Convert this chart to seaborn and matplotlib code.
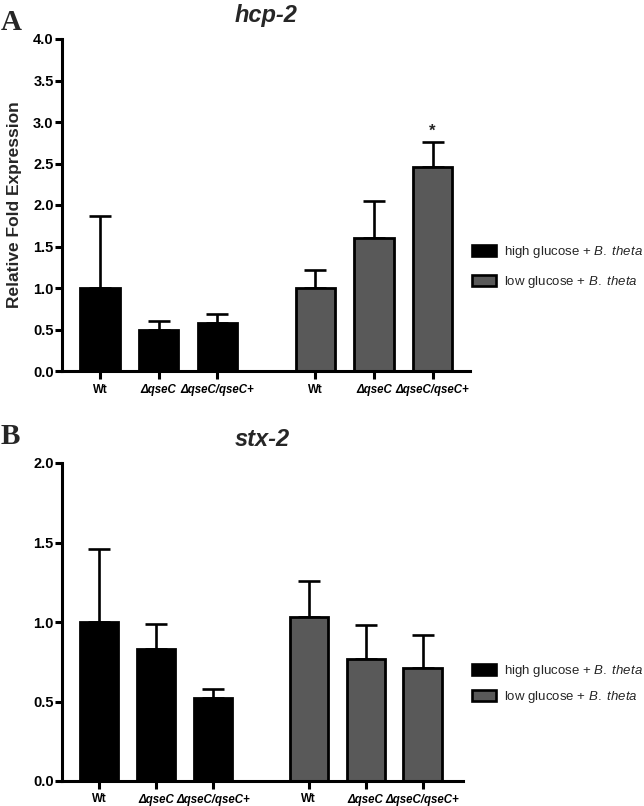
import matplotlib
matplotlib.use("Agg")
import matplotlib.pyplot as plt
import seaborn as sns
import pandas as pd
import numpy as np
from matplotlib.patches import Patch

# ---------------- data ----------------
strains = ["Wt", "ΔqseC", "ΔqseC/qseC+"]
conditions = ["high glucose + B. theta", "low glucose + B. theta"]
legend_labels = [r"high glucose + $\mathit{B.\ theta}$", r"low glucose + $\mathit{B.\ theta}$"]
colors = ["#000000", "#595959"]

hcp2_high = [1.00, 0.50, 0.58]
hcp2_high_err = [0.87, 0.10, 0.11]
hcp2_low = [1.00, 1.60, 2.46]
hcp2_low_err = [0.22, 0.45, 0.30]

stx2_high = [1.00, 0.83, 0.52]
stx2_high_err = [0.46, 0.16, 0.06]
stx2_low = [1.03, 0.77, 0.71]
stx2_low_err = [0.23, 0.21, 0.21]

positions = [0, 1, 2, 3.68, 4.68, 5.68]
hcp2_yticks = [0.0, 0.5, 1.0, 1.5, 2.0, 2.5, 3.0, 3.5, 4.0]
stx2_yticks = [0.0, 0.5, 1.0, 1.5, 2.0]
significant = [(5, "*")]   # index of bar in hcp-2 with star

# ---------------- style ----------------
sns.set_theme(style="ticks")
plt.rcParams["font.family"] = ["Liberation Sans", "DejaVu Sans"]
plt.rcParams["mathtext.fontset"] = "custom"
plt.rcParams["mathtext.it"] = "Liberation Sans:italic"
plt.rcParams["mathtext.rm"] = "Liberation Sans"

LW = 2.2

fig = plt.figure(figsize=(6.44, 8.06), dpi=100)
W, H = 644, 806


def fig_axes(x0, y0, x1, y1):
    return fig.add_axes([x0 / W, 1 - y1 / H, (x1 - x0) / W, (y1 - y0) / H])


def panel(ax, high, high_err, low, low_err, yticks, ylim, xlim, title):
    df = pd.DataFrame({
        "pos": positions,
        "value": list(high) + list(low),
        "cond": [conditions[0]] * 3 + [conditions[1]] * 3,
    })
    sns.barplot(data=df, x="pos", y="value", hue="cond", native_scale=True,
                dodge=False, width=0.67, palette=colors, edgecolor="black",
                linewidth=2.0, legend=False, ax=ax, zorder=2)
    vals = np.array(list(high) + list(low))
    errs = np.array(list(high_err) + list(low_err))
    ax.errorbar(positions, vals, yerr=[np.zeros_like(errs), errs], fmt="none",
                ecolor="black", elinewidth=1.9, capsize=8, capthick=1.9, zorder=1.5)
    ax.set_xlim(*xlim)
    ax.set_ylim(*ylim)
    ax.set_yticks(yticks)
    ax.set_yticklabels([f"{t:.1f}" for t in yticks], fontsize=10.5, fontweight="bold")
    ax.set_xticks(positions)
    labels = ax.set_xticklabels(strains * 2, fontsize=8.3, fontweight="bold")
    for lab in labels:
        if lab.get_text() != "Wt":
            lab.set_fontstyle("italic")
    ax.set_xlabel("")
    ax.set_ylabel("")
    for s in ["top", "right"]:
        ax.spines[s].set_visible(False)
    for s in ["left", "bottom"]:
        ax.spines[s].set_linewidth(LW)
        ax.spines[s].set_color("black")
    ax.tick_params(axis="y", length=5, width=LW, pad=1, colors="black")
    ax.tick_params(axis="x", length=6, width=LW, pad=3, colors="black")
    ax.set_title(title, fontsize=17, fontweight="bold", fontstyle="italic", pad=12)
    ax.set_facecolor("white")


axA = fig_axes(62, 39, 470, 371)
panel(axA, hcp2_high, hcp2_high_err, hcp2_low, hcp2_low_err, hcp2_yticks,
      (0, 4.0), (-0.65, 6.32), "hcp-2")
axA.set_ylabel("Relative Fold Expression", fontsize=12.5, fontweight="bold")
axA.yaxis.set_label_coords(-0.098, 0.5)
allA = hcp2_high + hcp2_low
allAerr = hcp2_high_err + hcp2_low_err
for idx, mark in significant:
    axA.text(positions[idx], allA[idx] + allAerr[idx] + 0.04, mark, ha="center",
             va="bottom", fontsize=12, fontweight="bold")

axB = fig_axes(62, 463, 463, 781)
panel(axB, stx2_high, stx2_high_err, stx2_low, stx2_low_err, stx2_yticks,
      (0, 2.0), (-0.65, 6.39), "stx-2")

handles = [Patch(facecolor=c, edgecolor="black", linewidth=1.9) for c in colors]
for ycen, sp in ((267, 1.1), (684, 0.75)):
    fig.legend(handles, legend_labels, loc="center left",
               bbox_to_anchor=(463 / W, 1 - ycen / H), frameon=False,
               fontsize=9.5, handlelength=1.8, handleheight=0.9,
               handletextpad=0.6, labelspacing=sp, borderpad=0.2)

fig.text(1 / W, 1 - 22 / H, "A", fontsize=21, fontweight="bold",
         family="Liberation Serif", va="center", ha="left")
fig.text(1 / W, 1 - 436 / H, "B", fontsize=21, fontweight="bold",
         family="Liberation Serif", va="center", ha="left")

fig.savefig("out.png", dpi=100, facecolor="white")
